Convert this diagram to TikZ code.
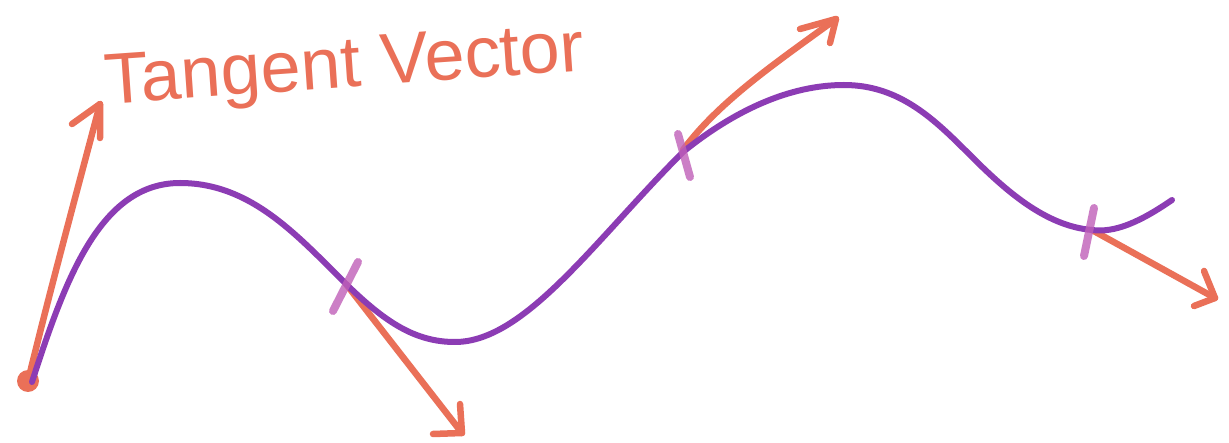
\documentclass[tikz,border=0pt]{standalone}
\usepackage{fontspec}
\setmainfont{Liberation Sans}
\definecolor{pen}{HTML}{EA7058}
\definecolor{curvecol}{HTML}{8C3CB4}
\definecolor{tickcol}{HTML}{C060B8}
\begin{document}
\begin{tikzpicture}[x=1pt,y=-1pt,
  vec/.style={draw=pen,line width=6.5pt,line cap=round,line join=round},
  curvestyle/.style={draw=curvecol,line width=6pt,line cap=round},
  tickmark/.style={draw=tickcol,line width=8pt,line cap=round,opacity=0.8},
  label/.style={text=pen,font=\fontsize{72}{72}\selectfont,inner sep=0pt}]
\useasboundingbox (0,0) rectangle (1229,443);
\fill[white] (0,0) rectangle (1229,443);
% points on the curve
\coordinate (p0) at (28,381);
\coordinate (p1) at (346,284);
\coordinate (p2) at (683,150);
\coordinate (p3) at (1092,230);
% arrow tips and barbs
\coordinate (t0) at (100,104);
\coordinate (b0a) at (72,124);
\coordinate (b0b) at (100,138);
\coordinate (t1) at (462,433);
\coordinate (b1a) at (460,404);
\coordinate (b1b) at (433,434);
\coordinate (t2) at (836,19);
\coordinate (b2a) at (800,29);
\coordinate (b2b) at (830,43);
\coordinate (t3) at (1215,298);
\coordinate (b3a) at (1204,271);
\coordinate (b3b) at (1194,306);
% tangent vectors
\draw[vec] (p0) .. controls (50,290) and (80,180) .. (t0);
\draw[vec] (b0a) -- (t0) -- (b0b);
\draw[vec] (p1) -- (t1);
\draw[vec] (b1a) -- (t1) -- (b1b);
\draw[vec] (p2) .. controls (720,100) and (780,60) .. (t2);
\draw[vec] (b2a) -- (t2) -- (b2b);
\draw[vec] (p3) -- (t3);
\draw[vec] (b3a) -- (t3) -- (b3b);
% start dot
\fill[pen] (p0) circle (11);
% curve
\draw[curvestyle] (32,382) .. controls (65,280) and (100,183) .. (180,183)
  .. controls (250,183) and (296,234) .. (p1)
  .. controls (385,322) and (415,342) .. (455,342)
  .. controls (525,342) and (595,240) .. (683,152)
  .. controls (735,110) and (790,85) .. (844,85)
  .. controls (900,85) and (935,120) .. (970,155)
  .. controls (1005,190) and (1045,226) .. (p3)
  .. controls (1115,233) and (1140,222) .. (1172,200);
% tick marks
\draw[tickmark] (358,262) -- (333,311);
\draw[tickmark] (678,134) -- (690,177);
\draw[tickmark] (1094,208) -- (1084,256);
% label
\node[label,rotate=4] (lbl) at (345,70) {Tangent Vector};
\end{tikzpicture}
\end{document}
